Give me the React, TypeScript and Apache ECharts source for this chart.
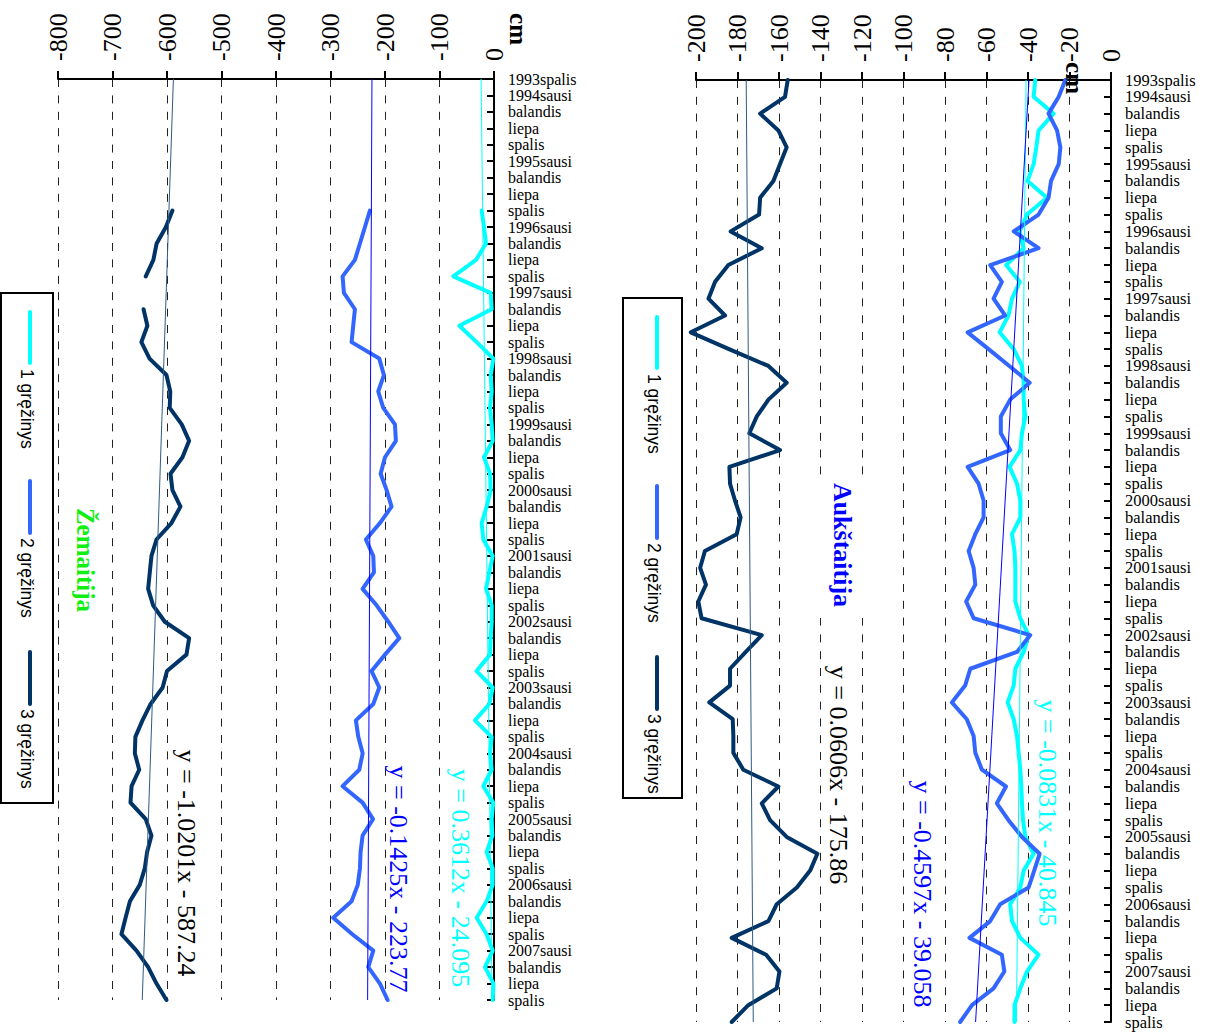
import React, { useEffect, useRef } from 'react';
import * as echarts from 'echarts';

const categories = [
  '1993spalis',
  '1994sausi', 'balandis', 'liepa', 'spalis',
  '1995sausi', 'balandis', 'liepa', 'spalis',
  '1996sausi', 'balandis', 'liepa', 'spalis',
  '1997sausi', 'balandis', 'liepa', 'spalis',
  '1998sausi', 'balandis', 'liepa', 'spalis',
  '1999sausi', 'balandis', 'liepa', 'spalis',
  '2000sausi', 'balandis', 'liepa', 'spalis',
  '2001sausi', 'balandis', 'liepa', 'spalis',
  '2002sausi', 'balandis', 'liepa', 'spalis',
  '2003sausi', 'balandis', 'liepa', 'spalis',
  '2004sausi', 'balandis', 'liepa', 'spalis',
  '2005sausi', 'balandis', 'liepa', 'spalis',
  '2006sausi', 'balandis', 'liepa', 'spalis',
  '2007sausi', 'balandis', 'liepa', 'spalis',
];

const seriesNames = ['1 gręžinys', '2 gręžinys', '3 gręžinys'];
const seriesColors = ['#00FFFF', '#3366FF', '#003366'];
const trendColors = ['#00FFFF', '#0000FF', '#2E5A85'];

// Aukštaitija
const auk1 = [
  -36.5, -37.3, -27.7, -34.9, -36, -37.3, -40.2, -30.9, -40.5, -44,
  -42.1, -50.5, -44, -47.7, -49.4, -53.7, -46.9, -42.9, -42.1, -42.1,
  -41.3, -42.9, -43.7, -48.9, -45.3, -43.7, -43.7, -47.7, -46.5, -46.1,
  -46.1, -46.1, -43.7, -39.7, -42.1, -46.1, -46.9, -49.8, -46.9, -45.3,
  -44.5, -43.7, -43.2, -42.9, -42.4, -41.3, -37.3, -42.1, -43.7, -48.6,
  -47.7, -43.7, -34.9, -40.5, -43.7, -46.5, -46.5,
];
const auk2 = [
  -22, -25.2, -30.1, -26, -24.4, -25.2, -28.9, -30.1, -34.9, -46.9,
  -34.9, -58.2, -52.6, -56.6, -51, -69.1, -59, -49, -39.2, -48.6,
  -53.1, -53.1, -48.6, -69.1, -63.8, -61.4, -61.4, -65.4, -68.6, -66.2,
  -65.4, -69.8, -66.2, -38.9, -45.3, -67.8, -70.3, -76.7, -69.5, -66.2,
  -65.4, -62.2, -50.6, -55, -49.4, -42.9, -34.4, -37, -39.7, -53.4,
  -58.2, -68.2, -52.6, -51.4, -56.6, -67, -72.7,
];
const auk3 = [
  -155.8, -157.1, -169.1, -160.3, -156.3, -159.5, -162.7, -169.1, -169.6, -183.3,
  -168.3, -184.4, -190.8, -194, -186, -202.5, -184.1, -165.1, -156.3, -165.1,
  -170.7, -174.3, -159.5, -183.9, -183.6, -181.2, -178.5, -180.4, -195.7, -198,
  -195.2, -198.9, -197.3, -168.3, -176, -183.6, -183.6, -193.6, -182.3, -182,
  -182, -177.2, -160.3, -168.3, -164.3, -156.3, -141.5, -145, -151.4, -161.1,
  -165.1, -182.8, -166.2, -159.8, -161.1, -174.8, -182.8,
];
const aukSlope = [-0.0831, -0.4597, 0.0606];
const aukIntercept = [-40.845, -39.058, -175.86];
const aukEquations = ['y = -0.0831x - 40.845', 'y = -0.4597x - 39.058', 'y = 0.0606x - 175.86'];

// Žemaitija
const zem1 = [
  null, null, null, null, null, null, null, null, -22.6, -18.4,
  -14.7, -33, -74.7, -6.1, -4.3, -63.6, -31.8, -1.2, -6.1, -4.3,
  -7.3, -4.3, -2.4, -18.4, -7.3, -6.1, -13.5, -22.6, -19.6, -2.4,
  -8.6, -14.7, -4.3, -4.3, -6.1, -7.3, -32, -2.4, -8.6, -34.9,
  -4.3, -7.3, -4.3, -19.6, -1.5, -4.3, -3, -13.5, -2.4, -2.4,
  -13.5, -31.8, -13.5, -2.4, -16.5, -1, -2.4,
];
const zem2 = [
  null, null, null, null, null, null, null, null, -227.7, -236.8,
  -246, -255.2, -277.8, -275.4, -255.2, -258.3, -261.3, -210.5, -202, -212.4,
  -203.2, -181.8, -180, -200, -208, -197, -188, -209.3, -235, -221.5,
  -220.3, -241.1, -215.4, -194, -173.8, -200, -224.6, -210.5, -221.5, -253.4,
  -249, -241, -247.2, -277.8, -241.1, -222, -241.1, -244.8, -246, -250,
  -261.3, -295, -260, -221.5, -230.7, -209.3, -195.2,
];
const zem3 = [
  null, null, null, null, null, null, null, null, -590, -602,
  -619, -625, -639, null, -643, -636, -647, -632, -601, -594,
  -595, -573, -559.4, -571.6, -593.6, -590, -575.3, -591.8, -619.3, -628.5,
  -631.6, -634.6, -625.5, -604, -559.4, -564.3, -600, -608, -630, -645,
  -658, -659, -651, -665, -667, -639, -628.5, -636.5, -640.8, -650,
  -668, -676, -683.6, -656, -634.6, -619.3, -601,
];
const zemSlope = [0.3612, -0.1425, -1.0201];
const zemIntercept = [-24.095, -223.77, -587.24];
const zemEquations = ['y = 0.3612x - 24.095', 'y = -0.1425x - 223.77', 'y = -1.0201x - 587.24'];

const SERIF = '"Liberation Serif", "Times New Roman", serif';
const SANS = '"Liberation Sans", Arial, sans-serif';
const ROT = -Math.PI / 2;

function trendData(slope: number, intercept: number) {
  const n = categories.length;
  const arr: (number | null)[] = new Array(n).fill(null);
  arr[0] = slope * 1 + intercept;
  arr[n - 1] = slope * n + intercept;
  return arr;
}

function makeAxes(gi: number, min: number, interval: number, dash: number[], catFont: number) {
  const xAxis = {
    gridIndex: gi,
    type: 'value',
    position: 'top',
    min,
    max: 0,
    interval,
    axisLine: { show: true, onZero: false, lineStyle: { color: '#000', width: 2 } },
    axisTick: { show: true, length: 8, lineStyle: { color: '#000', width: 2 } },
    axisLabel: { rotate: -90, margin: 18, color: '#000', fontSize: 26, fontFamily: SERIF },
    splitLine: { show: true, lineStyle: { color: '#222', width: 1, type: dash } },
  };
  const yAxis = {
    gridIndex: gi,
    type: 'category',
    data: categories,
    inverse: true,
    boundaryGap: false,
    position: 'right',
    axisLine: { show: true, onZero: false, lineStyle: { color: '#000', width: 2 } },
    axisTick: { show: true, inside: true, length: 7, interval: 0, lineStyle: { color: '#000', width: 2 } },
    axisLabel: { interval: 0, margin: 14, color: '#000', fontSize: catFont, fontFamily: SERIF },
    splitLine: { show: false },
  };
  return { xAxis, yAxis };
}

function dataSeries(gi: number, datas: (number | null)[][]) {
  return datas.map((d, i) => ({
    type: 'line',
    name: seriesNames[i],
    xAxisIndex: gi,
    yAxisIndex: gi,
    data: d,
    symbol: 'none',
    showSymbol: false,
    clip: false,
    connectNulls: false,
    z: 2 + i,
    lineStyle: { color: seriesColors[i], width: 4, cap: 'round', join: 'round' },
    itemStyle: { color: seriesColors[i] },
  }));
}

function trendSeries(gi: number, slopes: number[], intercepts: number[]) {
  return slopes.map((s, i) => ({
    type: 'line',
    xAxisIndex: gi,
    yAxisIndex: gi,
    data: trendData(s, intercepts[i]),
    symbol: 'none',
    showSymbol: false,
    connectNulls: true,
    clip: false,
    z: 6,
    lineStyle: { color: trendColors[i], width: 1 },
  }));
}

function rtext(x: number, y: number, text: string, style: any) {
  return {
    type: 'text',
    x,
    y,
    rotation: ROT,
    z: 20,
    style: {
      text,
      fill: '#000',
      fontFamily: SERIF,
      fontSize: 26,
      align: 'center',
      verticalAlign: 'middle',
      ...style,
    },
  };
}

function legend(bx: number, by: number, bw: number, bh: number, lx: number, tx: number, lines: number[][], texts: number[]) {
  const els: any[] = [
    {
      type: 'rect',
      z: 20,
      shape: { x: bx, y: by, width: bw, height: bh },
      style: { fill: '#fff', stroke: '#000', lineWidth: 2 },
    },
  ];
  lines.forEach((l, i) => {
    els.push({
      type: 'line',
      z: 21,
      shape: { x1: lx, y1: l[0], x2: lx, y2: l[1] },
      style: { stroke: seriesColors[i], lineWidth: 4, lineCap: 'round' },
    });
    els.push({
      type: 'text',
      x: tx,
      y: texts[i],
      rotation: ROT,
      z: 21,
      style: {
        text: seriesNames[i],
        fill: '#000',
        fontFamily: SANS,
        fontSize: 17.5,
        align: 'left',
        verticalAlign: 'middle',
      },
    });
  });
  return els;
}

export default function App() {
  const ref = useRef<HTMLDivElement>(null);
  useEffect(() => {
    if (!ref.current) return;
    const chart = echarts.init(ref.current, undefined, { renderer: 'svg' });
    const right = makeAxes(0, -200, 20, [8, 8.8], 16.5);
    const left = makeAxes(1, -800, 100, [8, 8.4], 16);
    const option: any = {
      animation: false,
      backgroundColor: '#fff',
      grid: [
        { left: 696, top: 80, width: 415, height: 942, containLabel: false },
        { left: 58, top: 79, width: 436, height: 921, containLabel: false },
      ],
      xAxis: [right.xAxis, left.xAxis],
      yAxis: [right.yAxis, left.yAxis],
      series: [
        ...dataSeries(0, [auk1, auk2, auk3]),
        ...trendSeries(0, aukSlope, aukIntercept),
        ...dataSeries(1, [zem1, zem2, zem3]),
        ...trendSeries(1, zemSlope, zemIntercept),
      ],
      graphic: [
        // title background (right)
        { type: 'rect', z: 1, shape: { x: 816, y: 480, width: 50, height: 138 }, style: { fill: '#fff' } },
        rtext(842, 545, 'Aukštaitija', { fill: '#0000FF', fontWeight: 'bold', fontSize: 26 }),
        rtext(85, 560, 'Žemaitija', { fill: '#11EE11', fontWeight: 'bold', fontSize: 25 }),
        // axis titles
        rtext(1074, 78, 'cm', { fontWeight: 'bold', fontSize: 25 }),
        rtext(518, 29, 'cm', { fontWeight: 'bold', fontSize: 25 }),
        // equations right
        rtext(1047, 813, aukEquations[0], { fill: '#00FFFF' }),
        rtext(922, 894, aukEquations[1], { fill: '#0000FF' }),
        rtext(838, 775, aukEquations[2], { fill: '#000' }),
        // equations left
        rtext(460, 878, zemEquations[0], { fill: '#00FFFF' }),
        rtext(398, 879, zemEquations[1], { fill: '#0000FF' }),
        rtext(186, 863, zemEquations[2], { fill: '#000' }),
        ...legend(623, 298, 59, 500, 657, 654, [[317, 368], [486, 538], [657, 709]], [374, 543, 714]),
        ...legend(1, 293, 52, 510, 30, 27, [[312, 363], [481, 533], [652, 704]], [369, 538, 709]),
      ],
    };
    chart.setOption(option);
    return () => chart.dispose();
  }, []);
  return (
    <div
      ref={ref}
      style={{ position: 'absolute', left: 0, top: 0, width: 1213, height: 1033, background: '#fff' }}
    />
  );
}
